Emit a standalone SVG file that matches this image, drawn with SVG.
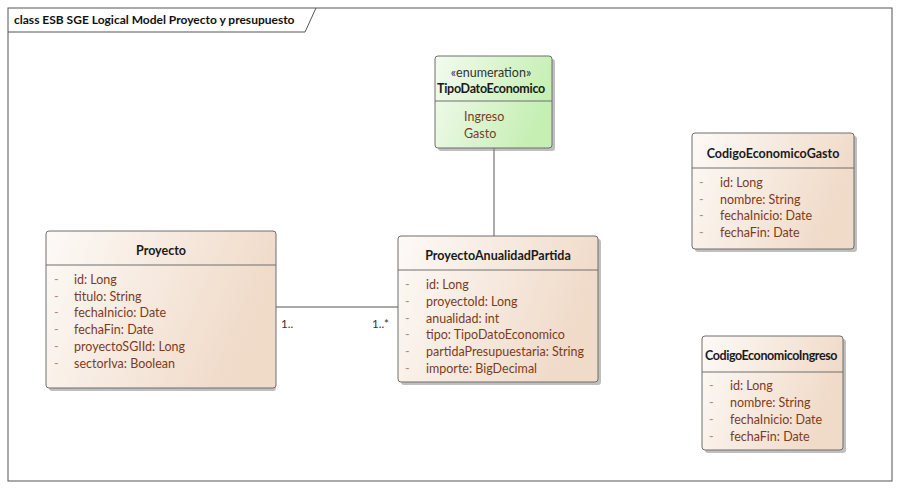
<svg xmlns="http://www.w3.org/2000/svg" width="900" height="489" viewBox="0 0 900 489">
<style>
text{font-family:Lato,"Open Sans","Liberation Sans",sans-serif;font-size:12.5px}
.t{font-weight:bold;fill:#1a1a1a;text-anchor:middle}
.a{fill:#7e3b1b}
.d{fill:#b58a70}
.s{fill:#333;text-anchor:middle}
.box{stroke:#6e6e6e;stroke-width:1}
.sh{fill:#8a8a8a;opacity:0.55}
.ln{stroke:#555;stroke-width:1;fill:none}
.lbl{fill:#333;font-size:11.5px}
</style>
<defs>
<linearGradient id="cg" x1="0" y1="0" x2="1" y2="0.3">
<stop offset="0" stop-color="#fdfaf7"/>
<stop offset="1" stop-color="#f0dac8"/>
</linearGradient>
<linearGradient id="eg" x1="0" y1="0" x2="1" y2="0.3">
<stop offset="0" stop-color="#f3fbef"/>
<stop offset="1" stop-color="#c6efb4"/>
</linearGradient>
</defs>
<rect x="0" y="0" width="900" height="489" fill="#fff"/>
<g id="frame">
<rect x="8" y="8" width="884" height="473" fill="none" stroke="#555" stroke-width="1"/>
<path d="M8 32 H305 L316 8" fill="none" stroke="#555" stroke-width="1"/>
<text x="14" y="24" style="font-weight:bold;fill:#111;font-size:12px">class ESB SGE Logical Model Proyecto y presupuesto</text>
</g>
<g id="connectors">
<line class="ln" x1="276" y1="307" x2="398" y2="307"/>
<line class="ln" x1="494" y1="148" x2="494" y2="236"/>
<text class="lbl" x="281" y="328">1..</text>
<text class="lbl" x="372" y="328">1..*</text>
</g>
<g id="TipoDatoEconomico">
<rect class="sh" x="438" y="59" width="117" height="92" rx="3"/>
<rect class="box" x="435" y="56" width="117" height="92" rx="3" fill="url(#eg)"/>
<line class="box" x1="435" y1="101" x2="552" y2="101"/>
<text class="s" x="491" y="77">«enumeration»</text>
<text class="t" x="491" y="93" style="letter-spacing:-0.3px">TipoDatoEconomico</text>
<text class="a" x="464" y="121">Ingreso</text>
<text class="a" x="464" y="138">Gasto</text>
</g>
<g id="Proyecto">
<rect class="sh" x="49" y="234" width="227" height="157" rx="3"/>
<rect class="box" x="46" y="231" width="230" height="157" rx="3" fill="url(#cg)"/>
<line class="box" x1="46" y1="265" x2="276" y2="265"/>
<text class="t" x="161" y="255">Proyecto</text>
<g class="d"><text x="54" y="284">-</text><text x="54" y="301">-</text><text x="54" y="317">-</text><text x="54" y="334">-</text><text x="54" y="351">-</text><text x="54" y="368">-</text></g>
<text class="a" x="74" y="284">id: Long</text>
<text class="a" x="74" y="301">titulo: String</text>
<text class="a" x="74" y="317">fechaInicio: Date</text>
<text class="a" x="74" y="334">fechaFin: Date</text>
<text class="a" x="74" y="351">proyectoSGIId: Long</text>
<text class="a" x="74" y="368">sectorIva: Boolean</text>
</g>
<g id="ProyectoAnualidadPartida">
<rect class="sh" x="401" y="239" width="200" height="146" rx="3"/>
<rect class="box" x="398" y="236" width="200" height="146" rx="3" fill="url(#cg)"/>
<line class="box" x1="398" y1="270" x2="598" y2="270"/>
<text class="t" x="498" y="260">ProyectoAnualidadPartida</text>
<g class="d"><text x="405" y="289">-</text><text x="405" y="306">-</text><text x="405" y="323">-</text><text x="405" y="339">-</text><text x="405" y="356">-</text><text x="405" y="373">-</text></g>
<text class="a" x="426" y="289">id: Long</text>
<text class="a" x="426" y="306">proyectoId: Long</text>
<text class="a" x="426" y="323">anualidad: int</text>
<text class="a" x="426" y="339">tipo: TipoDatoEconomico</text>
<text class="a" x="426" y="356">partidaPresupuestaria: String</text>
<text class="a" x="426" y="373">importe: BigDecimal</text>
</g>
<g id="CodigoEconomicoGasto">
<rect class="sh" x="695" y="136" width="162" height="116" rx="3"/>
<rect class="box" x="692" y="133" width="162" height="116" rx="3" fill="url(#cg)"/>
<line class="box" x1="692" y1="168" x2="854" y2="168"/>
<text class="t" x="773" y="158">CodigoEconomicoGasto</text>
<g class="d"><text x="699" y="187">-</text><text x="699" y="204">-</text><text x="699" y="220">-</text><text x="699" y="237">-</text></g>
<text class="a" x="720" y="187">id: Long</text>
<text class="a" x="720" y="204">nombre: String</text>
<text class="a" x="720" y="220">fechaInicio: Date</text>
<text class="a" x="720" y="237">fechaFin: Date</text>
</g>
<g id="CodigoEconomicoIngreso">
<rect class="sh" x="705" y="339" width="141" height="114" rx="3"/>
<rect class="box" x="702" y="336" width="141" height="114" rx="3" fill="url(#cg)"/>
<line class="box" x1="702" y1="372" x2="843" y2="372"/>
<text class="t" x="771" y="360" style="letter-spacing:-0.4px">CodigoEconomicoIngreso</text>
<g class="d"><text x="709" y="390">-</text><text x="709" y="407">-</text><text x="709" y="424">-</text><text x="709" y="441">-</text></g>
<text class="a" x="730" y="390">id: Long</text>
<text class="a" x="730" y="407">nombre: String</text>
<text class="a" x="730" y="424">fechaInicio: Date</text>
<text class="a" x="730" y="441">fechaFin: Date</text>
</g>
</svg>
